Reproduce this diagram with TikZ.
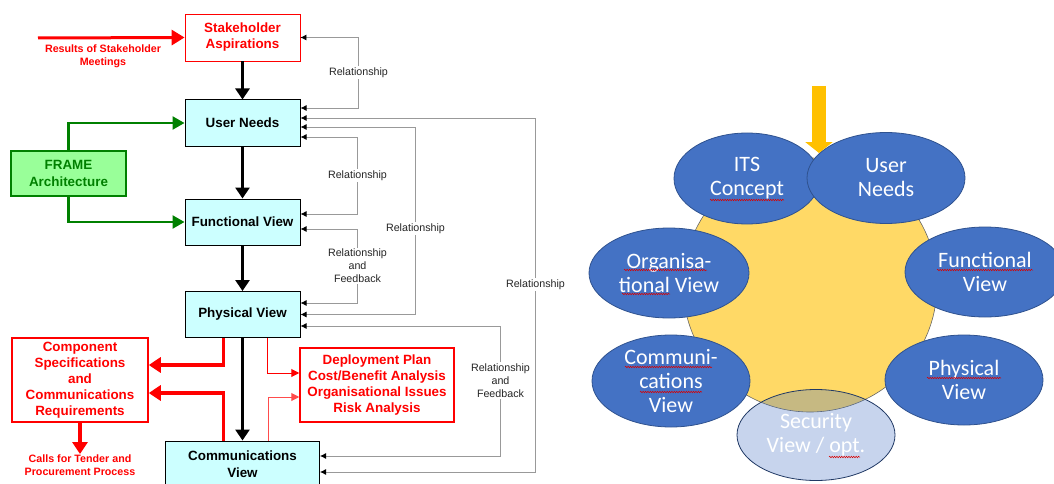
\documentclass[tikz,border=0pt]{standalone}
\usepackage{fontspec}
\setmainfont{Liberation Sans}
\newfontfamily\carlito{Carlito}
\usepackage{tikz}
\usetikzlibrary{arrows.meta}
\usetikzlibrary{shapes.geometric}
\usetikzlibrary{decorations.pathmorphing}
\definecolor{viewcyan}{HTML}{CCFFFF}
\definecolor{framefill}{HTML}{99FF99}
\definecolor{framegreen}{HTML}{008000}
\definecolor{petalblue}{HTML}{4472C4}
\definecolor{petalline}{HTML}{2F528F}
\definecolor{coreyellow}{HTML}{FFD966}
\definecolor{feedorange}{HTML}{FFC000}
\tikzset{edge/.style = {line width=3pt,-{Triangle[length=11pt,width=14pt]}}}
\tikzset{rel/.style = {draw=black!40,line width=0.8pt,{Latex[length=6pt,width=6pt,color=black]}-{Latex[length=6pt,width=6pt,color=black]}}}
\tikzset{rellabel/.style = {fill=white,inner sep=1.5pt,align=center,text=black!85,font=\fontsize{10.7}{13}\selectfont}}
\tikzset{viewbox/.style = {draw=black,line width=1pt,fill=viewcyan,minimum width=115pt,minimum height=46pt,inner sep=0pt,align=center,font=\fontsize{13.4}{17}\selectfont\bfseries}}
\tikzset{stakebox/.style = {draw=red,line width=0.8pt,fill=white,text=red,minimum width=115pt,minimum height=47pt,inner sep=0pt,align=center,font=\fontsize{13.4}{16}\selectfont\bfseries}}
\tikzset{framebox/.style = {draw=framegreen,line width=1.5pt,fill=framefill,text=framegreen,minimum width=115pt,minimum height=45pt,inner sep=0pt,align=center,font=\fontsize{13.4}{17}\selectfont\bfseries}}
\tikzset{specbox/.style = {draw=red,line width=1.5pt,fill=white,text=red,inner sep=0pt,align=center,font=\fontsize{13.4}{16}\selectfont\bfseries}}
\tikzset{redtext/.style = {text=red,inner sep=1pt,align=center,font=\fontsize{10.7}{13}\selectfont\bfseries}}
\tikzset{greenedge/.style = {draw=framegreen,line width=2.5pt,-{Triangle[length=12pt,width=13pt]}}}
\tikzset{specedge/.style = {draw=red,line width=3.5pt,-{Triangle[length=12pt,width=15pt]}}}
\tikzset{thinred/.style = {draw=red,line width=1pt,-{Triangle[length=8pt,width=8pt]}}}
\tikzset{petal/.style = {ellipse,draw=petalline,line width=0.8pt,fill=petalblue,text=white,inner sep=0pt,align=center,font=\carlito\fontsize{22}{24}\selectfont}}
\tikzset{squiggle/.style = {draw=red!85!black,line width=0.5pt,decorate,decoration={snake,segment length=2.4pt,amplitude=0.8pt}}}

\begin{document}
\begin{tikzpicture}[x=1pt,y=-1pt]
    \useasboundingbox (0,0) rectangle (1054,484);

    % Box centres
    \newcommand{\pStake}{(242.5,37.5)}
    \newcommand{\pUser}{(242.5,123)}
    \newcommand{\pFunc}{(242.5,222)}
    \newcommand{\pPhys}{(242.5,314.5)}
    \newcommand{\pComm}{(242.5,464)}
    \newcommand{\pFrame}{(68.5,173.5)}
    \newcommand{\pSpec}{(80,380)}
    \newcommand{\pDeploy}{(377,385)}

    % Petal centres
    \newcommand{\eCore}{(810,285)}
    \newcommand{\eIts}{(747,178.5)}
    \newcommand{\eUser}{(886,178)}
    \newcommand{\eOrg}{(669,273)}
    \newcommand{\eFunc}{(985,272)}
    \newcommand{\eComm}{(671,381)}
    \newcommand{\ePhys}{(964,380)}
    \newcommand{\eSec}{(816,435)}

    \node[stakebox] (sa) at \pStake {Stakeholder\\Aspirations};
    \node[viewbox] (un) at \pUser {User Needs};
    \node[viewbox] (fv) at \pFunc {Functional View};
    \node[viewbox] (pv) at \pPhys {Physical View};
    \node[viewbox, minimum width=154pt] (cv) at \pComm {Communications\\View};
    \node[framebox] (fa) at \pFrame {FRAME\\Architecture};
    \node[specbox, minimum width=136pt, minimum height=84pt] (cs) at \pSpec {Component\\Specifications\\and\\Communications\\Requirements};
    \node[specbox, minimum width=154pt, minimum height=74pt] (dp) at \pDeploy {Deployment Plan\\Cost/Benefit Analysis\\Organisational Issues\\Risk Analysis};
    \node[redtext] (results) at (103,56) {Results of Stakeholder\\Meetings};
    \node[redtext, anchor=north] (tender) at (80,454) {Calls for Tender and\\Procurement Process};
    \coordinate (meet) at (38,38);

    % Main flow
    \draw[edge] (sa.south) -- (un.north);
    \draw[edge] (un.south) -- (fv.north);
    \draw[edge] (fv.south) -- (pv.north);
    \draw[edge] (pv.south) -- (cv.north);
    \draw[edge, red, -{Triangle[length=13pt,width=15pt]}] (meet) -- (sa.west);
    \draw[greenedge] (fa.north) |- (un.west);
    \draw[greenedge] (fa.south) |- (fv.west);
    \draw[specedge] ([xshift=-19pt]pv.south) |- ([yshift=15pt]cs.east);
    \draw[specedge] ([xshift=-19pt]cv.north) |- ([yshift=-13pt]cs.east);
    \draw[specedge] (cs.south) -- (tender.north);
    \draw[thinred] ([xshift=25pt]pv.south) |- ([yshift=12pt]dp.west);
    \draw[thinred, red!70] ([xshift=26pt]cv.north) |- ([yshift=-12pt]dp.west);

    % Relationships
    \draw[rel] ([yshift=15pt]un.east) -- ++(58,0) |- node[rellabel, pos=0.25] (r1) {Relationship} (sa.east);
    \draw[rel] ([yshift=5pt]un.east) -- ++(235,0) |- node[rellabel, pos=0.235] (r2) {Relationship} ([yshift=-8pt]cv.east);
    \draw[rel] ([yshift=-4pt]un.east) -- ++(115,0) |- node[rellabel, pos=0.27] (r3) {Relationship} (pv.east);
    \draw[rel] ([yshift=-14pt]un.east) -- ++(57,0) |- node[rellabel, pos=0.25] (r4) {Relationship} ([yshift=8pt]fv.east);
    \draw[rel] ([yshift=-7pt]fv.east) -- ++(57,0) |- node[rellabel, pos=0.25] (r5) {Relationship\\and\\Feedback} ([yshift=11.5pt]pv.east);
    \draw[rel] ([yshift=-11.5pt]pv.east) -- ++(200,0) |- node[rellabel, pos=0.21] (r6) {Relationship\\and\\Feedback} ([yshift=8pt]cv.east);

    % Views around the concept
    \node[circle, draw=black!60, line width=0.6pt, fill=coreyellow, minimum size=254pt] (core) at \eCore {};
    \node[petal, minimum width=146pt, minimum height=91pt] (its) at \eIts {ITS\\Concept};
    \node[petal, minimum width=158pt, minimum height=91pt] (user) at \eUser {User\\Needs};
    \node[petal, minimum width=160pt, minimum height=90pt] (org) at \eOrg {Organisa-\\tional View};
    \node[petal, minimum width=160pt, minimum height=90pt] (func) at \eFunc {Functional\\View};
    \node[petal, minimum width=158pt, minimum height=92pt] (comm) at \eComm {Communi-\\cations\\View};
    \node[petal, minimum width=158pt, minimum height=90pt] (phys) at \ePhys {Physical\\View};
    \node[petal, draw=petalline!70!black, fill opacity=0.3, text opacity=1, minimum width=158pt, minimum height=91pt] (sec) at \eSec {Security\\View / opt.};

    % Spelling marks
    \draw[squiggle] (710,200) -- (784,200);
    \draw[squiggle] (624,270) -- (707,270);
    \draw[squiggle] (622,294) -- (670,294);
    \draw[squiggle] (937,270) -- (1033,270);
    \draw[squiggle] (625,367) -- (712,367);
    \draw[squiggle] (640,392) -- (702,392);
    \draw[squiggle] (927,378) -- (1001,378);
    \draw[squiggle] (829,457) -- (860,457);

    \coordinate (feed) at (819,86);
    \coordinate (feedtip) at (819,153);
    \draw[feedorange, line width=14pt, -{Triangle[length=11pt,width=27pt]}] (feed) -- (feedtip);
\end{tikzpicture}
\end{document}
